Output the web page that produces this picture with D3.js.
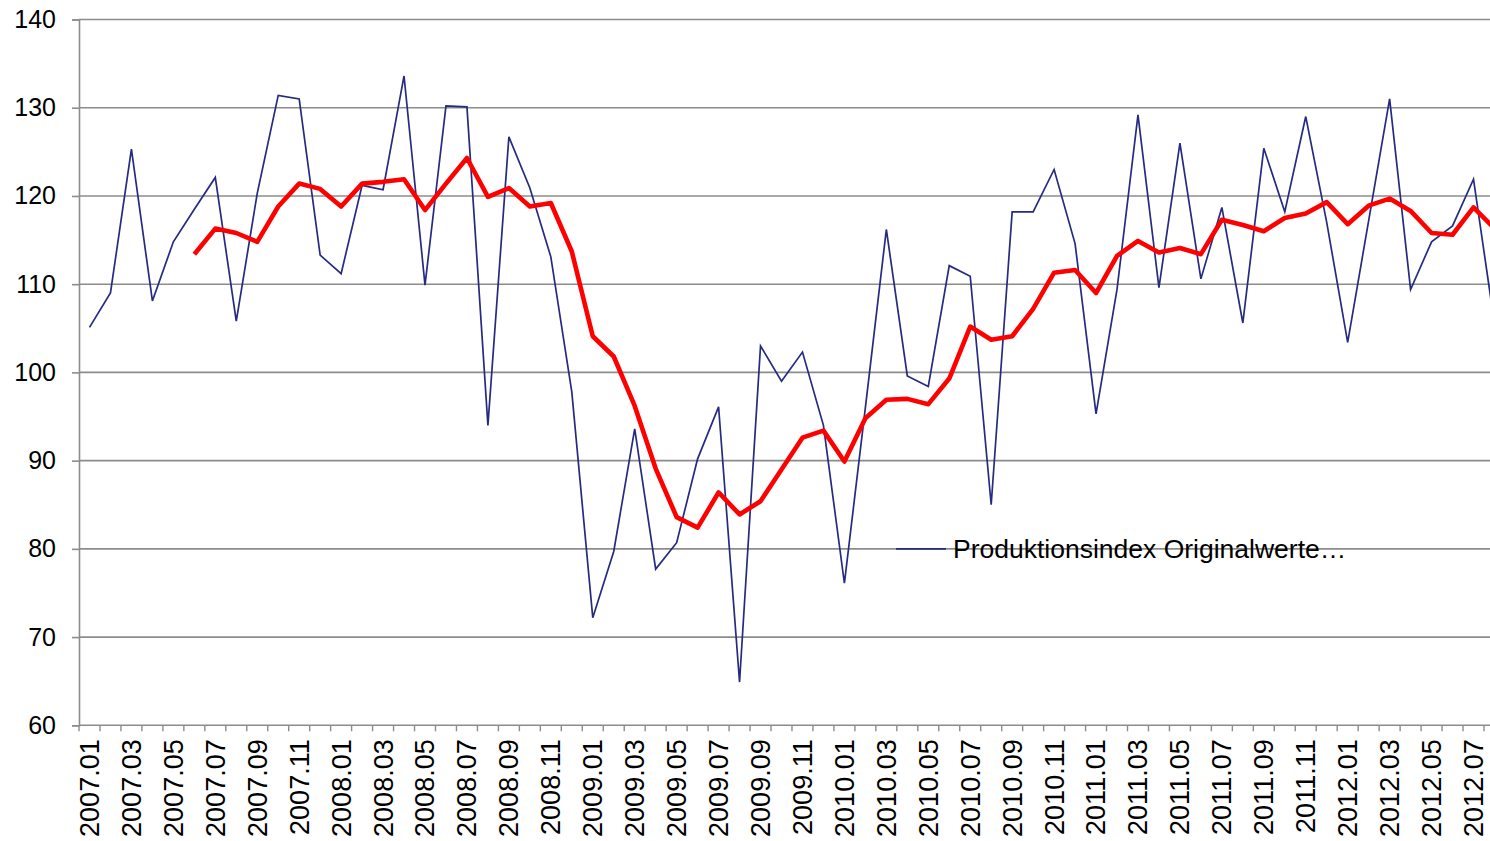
<!DOCTYPE html>
<html>
<head>
<meta charset="utf-8">
<script src="https://cdn.jsdelivr.net/npm/d3@7"></script>
<style>
  body { margin: 0; background: #fff; }
  text { font-family: "Liberation Sans", Arial, sans-serif; fill: #000; }
</style>
</head>
<body>
<div id="chart"></div>
<script>
// months 2007.01 .. 2012.08
const months = []
for (let yr = 2007; yr <= 2012; yr++) {
  for (let m = 1; m <= 12; m++) {
    if (yr === 2012 && m > 8) break
    months.push(yr + "." + String(m).padStart(2, "0"))
  }
}

// Produktionsindex Originalwerte
const original = [
  105.1, 109.0, 125.3, 108.1, 114.8, 118.5, 122.1, 105.8, 120.3, 131.4, 131.0, 113.3,
  111.2, 121.2, 120.7, 133.6, 109.9, 130.2, 130.1, 94.0, 126.7, 120.9, 113.1, 97.8,
  72.2, 79.7, 93.6, 77.7, 80.7, 90.2, 96.1, 64.9, 103.0, 99.0, 102.3, 94.0,
  76.1, 96.0, 116.2, 99.6, 98.4, 112.1, 110.9, 85.0, 118.2, 118.2, 123.0, 114.6,
  95.3, 109.4, 129.2, 109.6, 126.0, 110.6, 118.7, 105.6, 125.4, 118.2, 129.0, 117.0,
  103.4, 117.2, 131.0, 109.4, 114.8, 116.6, 121.9, 105.5
]

// gleitender Durchschnitt (rote Linie), beginnt 2007.06
const smoothed = [
  null, null, null, null, null, 113.4, 116.3, 115.8, 114.8, 118.8, 121.4, 120.8,
  118.8, 121.4, 121.6, 121.9, 118.4, 121.4, 124.3, 119.9, 120.9, 118.8, 119.2, 113.7,
  104.1, 101.8, 96.2, 89.1, 83.6, 82.4, 86.4, 83.9, 85.4, 89.0, 92.6, 93.4,
  89.9, 94.8, 96.9, 97.0, 96.4, 99.3, 105.2, 103.7, 104.1, 107.2, 111.3, 111.6,
  109.0, 113.2, 114.9, 113.6, 114.1, 113.4, 117.3, 116.7, 116.0, 117.5, 118.0, 119.3,
  116.8, 118.9, 119.7, 118.3, 115.8, 115.6, 118.7, 116.3
]

const yTicks = [60, 70, 80, 90, 100, 110, 120, 130, 140]
const legendLabel = "Produktionsindex Originalwerte…"

const width = 1490, height = 841
const plotLeft = 79, plotTop = 19.5, plotBottom = 725.3
const step = 20.97

const svg = d3.select("#chart")
  .append("svg")
    .attr("width", width)
    .attr("height", height)

const x = d3.scaleBand()
  .domain(months)
  .range([plotLeft, plotLeft + step * months.length])
  .padding(0)

const y = d3.scaleLinear()
  .domain([60, 140])
  .range([plotBottom, plotTop])

const cx = d => x(d) + x.bandwidth() / 2

// horizontal gridlines
svg.append("g")
  .selectAll("line")
  .data(yTicks.slice(1))
  .join("line")
    .attr("x1", plotLeft)
    .attr("x2", width)
    .attr("y1", d => y(d))
    .attr("y2", d => y(d))
    .style("stroke", "#8c8c8c")
    .style("stroke-width", 1.6)

// y axis
const yAxis = svg.append("g")
  .attr("transform", `translate(${plotLeft},0)`)
  .call(d3.axisLeft(y).tickValues(yTicks).tickSize(7).tickPadding(16))
yAxis.select(".domain").style("stroke", "#8c8c8c").style("stroke-width", 1.6)
yAxis.selectAll(".tick line").style("stroke", "#8c8c8c").style("stroke-width", 1.6)
yAxis.selectAll(".tick text")
  .style("font-size", "25px")
  .style("font-family", "Liberation Sans, Arial, sans-serif")
  .attr("fill", "#000")

// x axis line
svg.append("line")
  .attr("x1", plotLeft).attr("x2", width)
  .attr("y1", plotBottom).attr("y2", plotBottom)
  .style("stroke", "#8c8c8c")
  .style("stroke-width", 1.6)

// x tick marks on band boundaries
svg.append("g")
  .selectAll("line")
  .data(months)
  .join("line")
    .attr("x1", d => x(d))
    .attr("x2", d => x(d))
    .attr("y1", plotBottom)
    .attr("y2", plotBottom + 6)
    .style("stroke", "#8c8c8c")
    .style("stroke-width", 1.4)

// x labels, every second month
svg.append("g")
  .selectAll("text")
  .data(months.filter((d, i) => i % 2 === 0))
  .join("text")
    .attr("transform", d => `translate(${cx(d)},${plotBottom + 14}) rotate(-90)`)
    .attr("dy", "0.35em")
    .attr("text-anchor", "end")
    .style("font-size", "27px")
    .text(d => d)

// original values
const line = d3.line()
  .defined(d => d[1] != null)
  .x(d => cx(d[0]))
  .y(d => y(d[1]))

svg.append("path")
  .datum(months.map((m, i) => [m, original[i]]))
  .attr("d", line)
  .style("fill", "none")
  .style("stroke", "#262a80")
  .style("stroke-width", 1.7)

// smoothed series
svg.append("path")
  .datum(months.map((m, i) => [m, smoothed[i]]))
  .attr("d", line)
  .style("fill", "none")
  .style("stroke", "#ff0000")
  .style("stroke-width", 4.6)
  .style("stroke-linejoin", "round")

// legend
const legend = svg.append("g")
  .attr("transform", `translate(896,${y(80)})`)
legend.append("line")
  .attr("x1", 0).attr("x2", 50)
  .style("stroke", "#262a80")
  .style("stroke-width", 1.7)
legend.append("text")
  .attr("x", 57)
  .attr("dy", "0.35em")
  .style("font-size", "26.5px")
  .text(legendLabel)
</script>
</body>
</html>
